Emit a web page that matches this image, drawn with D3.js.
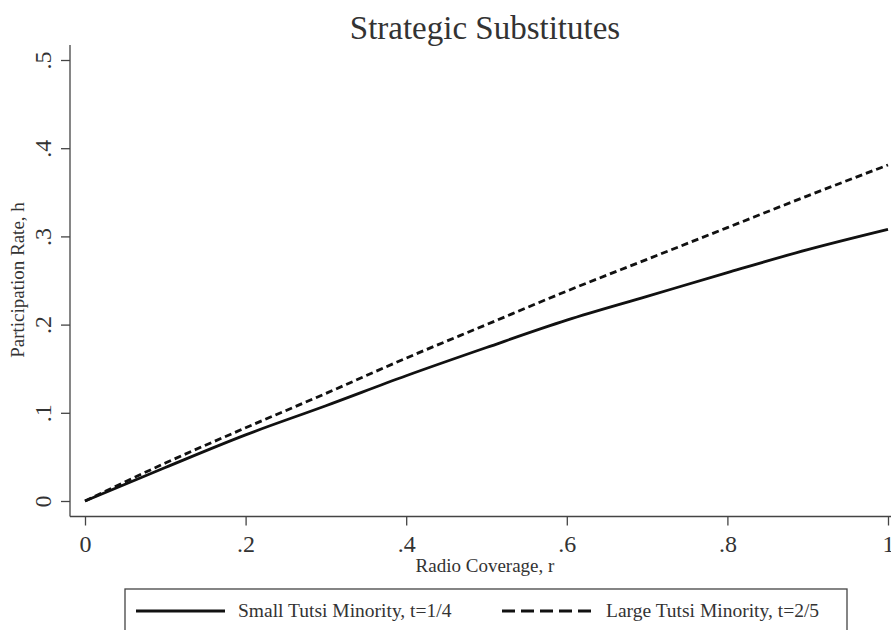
<!DOCTYPE html>
<html><head><meta charset="utf-8">
<script src="https://cdn.jsdelivr.net/npm/d3@7"></script>
<style>body{margin:0;background:#fff}svg{display:block}text{font-family:"Liberation Serif","Times New Roman",serif;fill:#333}</style>
</head><body><svg id="c" width="891" height="630"></svg>
<script>
const coverage = [0, 0.1, 0.2, 0.3, 0.4, 0.5, 0.6, 0.7, 0.8, 0.9, 1.0];
const smallMinority = [0, 0.038, 0.075, 0.108, 0.142, 0.174, 0.205, 0.232, 0.259, 0.285, 0.308];
const largeMinority = [0, 0.043, 0.083, 0.122, 0.162, 0.200, 0.238, 0.274, 0.310, 0.346, 0.381];
const xTicks = [0, 0.2, 0.4, 0.6, 0.8, 1];
const xTickLabels = ["0", ".2", ".4", ".6", ".8", "1"];
const yTicks = [0, 0.1, 0.2, 0.3, 0.4, 0.5];
const yTickLabels = ["0", ".1", ".2", ".3", ".4", ".5"];
const seriesNames = ["Small Tutsi Minority, t=1/4", "Large Tutsi Minority, t=2/5"];

const svg = d3.select("#c");
const x = d3.scaleLinear().domain([0, 1]).range([85, 888]);
const y = d3.scaleLinear().domain([0, 0.5]).range([501, 60]);
const axisColor = "#444";

svg.append("line").attr("x1", 70).attr("x2", 70).attr("y1", 45).attr("y2", 516.5).attr("stroke", axisColor).attr("stroke-width", 1.3);
svg.append("line").attr("x1", 70).attr("x2", 891).attr("y1", 516.5).attr("y2", 516.5).attr("stroke", axisColor).attr("stroke-width", 1.3);

const xAxis = d3.axisBottom(x).tickValues(xTicks).tickFormat((d, i) => xTickLabels[i]).tickSize(9);
const gx = svg.append("g").attr("transform", "translate(0,516.5)").call(xAxis);
gx.select(".domain").remove();
gx.selectAll(".tick line").attr("stroke", axisColor).attr("stroke-width", 1.3);
gx.selectAll(".tick text").attr("font-size", 24).attr("font-family", "Liberation Serif").attr("fill", "#333")
  .attr("y", 35.5).attr("dy", null);

const yAxis = d3.axisLeft(y).tickValues(yTicks).tickFormat((d, i) => yTickLabels[i]).tickSize(9);
const gy = svg.append("g").attr("transform", "translate(70,0)").call(yAxis);
gy.select(".domain").remove();
gy.selectAll(".tick line").attr("stroke", axisColor).attr("stroke-width", 1.3);
gy.selectAll(".tick text").attr("font-size", 24).attr("font-family", "Liberation Serif").attr("fill", "#333")
  .attr("x", null).attr("dy", null).attr("text-anchor", "middle")
  .attr("transform", "translate(-19,0) rotate(-90)");

const line = d3.line().x((d, i) => x(coverage[i])).y(d => y(d)).curve(d3.curveMonotoneX);
svg.append("path").datum(smallMinority).attr("d", line).attr("fill", "none").attr("stroke", "#111").attr("stroke-width", 2.8);
svg.append("path").datum(largeMinority).attr("d", line).attr("fill", "none").attr("stroke", "#111").attr("stroke-width", 2.8).attr("stroke-dasharray", "7,4");

svg.append("text").attr("x", 485).attr("y", 39).attr("text-anchor", "middle").attr("font-size", 33).text("Strategic Substitutes");
svg.append("text").attr("x", 485).attr("y", 572).attr("text-anchor", "middle").attr("font-size", 19).text("Radio Coverage, r");
svg.append("text").attr("transform", "translate(24,280) rotate(-90)").attr("text-anchor", "middle").attr("font-size", 19).text("Participation Rate, h");

svg.append("rect").attr("x", 125).attr("y", 589).attr("width", 722).attr("height", 60).attr("fill", "none").attr("stroke", axisColor).attr("stroke-width", 1.3);
svg.append("line").attr("x1", 136).attr("x2", 225).attr("y1", 611).attr("y2", 611).attr("stroke", "#111").attr("stroke-width", 3);
svg.append("line").attr("x1", 502).attr("x2", 595).attr("y1", 611).attr("y2", 611).attr("stroke", "#111").attr("stroke-width", 3).attr("stroke-dasharray", "13,6");
svg.append("text").attr("x", 238).attr("y", 617).attr("font-size", 19.5).text(seriesNames[0]);
svg.append("text").attr("x", 606).attr("y", 617).attr("font-size", 19.5).text(seriesNames[1]);
</script></body></html>
